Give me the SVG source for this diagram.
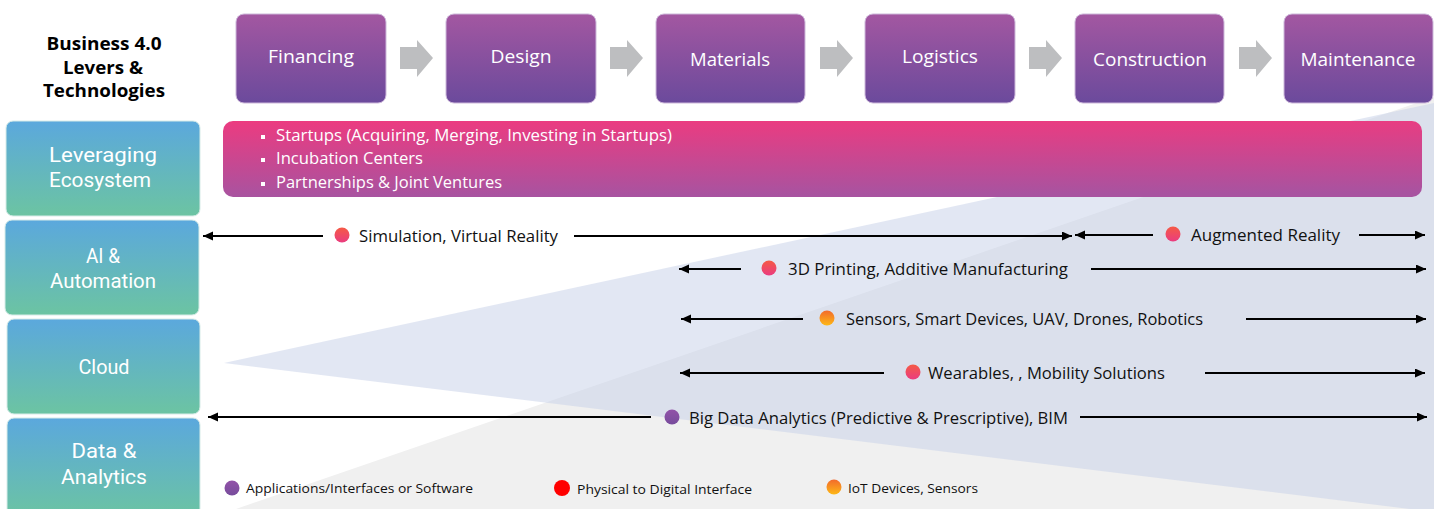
<svg xmlns="http://www.w3.org/2000/svg" width="1440" height="509" viewBox="0 0 1440 509">
<defs>
<linearGradient id="gStage" x1="0" y1="0" x2="0" y2="1"><stop offset="0" stop-color="#a357a1"/><stop offset="1" stop-color="#6b4a9c"/></linearGradient>
<linearGradient id="gLever" x1="0" y1="0" x2="0" y2="1"><stop offset="0" stop-color="#5ba8dd"/><stop offset="1" stop-color="#6cc4a2"/></linearGradient>
<linearGradient id="gPink" x1="0" y1="0" x2="0.06" y2="1"><stop offset="0" stop-color="#ec3b80"/><stop offset="1" stop-color="#a853a0"/></linearGradient>
<linearGradient id="gRed" x1="0" y1="0" x2="0" y2="1"><stop offset="0" stop-color="#f55a45"/><stop offset="1" stop-color="#ea3c80"/></linearGradient>
<linearGradient id="gOrange" x1="0" y1="0" x2="0" y2="1"><stop offset="0" stop-color="#f26a2c"/><stop offset="1" stop-color="#fdb816"/></linearGradient>
<linearGradient id="gPurple" x1="0" y1="0" x2="0" y2="1"><stop offset="0" stop-color="#9252a8"/><stop offset="1" stop-color="#774c9c"/></linearGradient>
<marker id="ah" markerUnits="userSpaceOnUse" markerWidth="11" markerHeight="10" refX="10" refY="4.5" orient="auto"><path d="M0,0 L10,4.5 L0,9 z" fill="#000"/></marker>
</defs>
<style>
.stage rect{fill:url(#gStage);stroke:#cdb8da;stroke-width:1}
.stage text{fill:#fff;font-family:"Open Sans","Noto Sans",sans-serif;font-size:19px;text-anchor:middle}
.lever rect{fill:url(#gLever);stroke:#d7ece8;stroke-width:1}
.lever text{fill:#fff;font-family:Roboto,"Open Sans",sans-serif;font-size:21px;text-anchor:middle}
.title text{fill:#000;font-family:"Open Sans","Noto Sans",sans-serif;font-size:18px;font-weight:bold;text-anchor:middle}
.eco text{fill:#fff;font-family:"Open Sans","Noto Sans",sans-serif;font-size:16px}
.tech text{fill:#111;font-family:"Open Sans","Noto Sans",sans-serif;font-size:16.5px}
.legend text{fill:#111;font-family:"Open Sans","Noto Sans",sans-serif;font-size:13.5px}
.chev{fill:#bdbec0}
#connectors line{stroke:#000;stroke-width:2;marker-end:url(#ah)}
</style>
<g id="background">
<polygon points="236,509 1434,97 1434,509" fill="#f0f0f0"/>
<polygon points="224,363 1434,103 1434,512" fill="rgb(200,210,232)" fill-opacity="0.53"/>
</g>
<g id="title" class="title">
<text x="104" y="50" textLength="115" lengthAdjust="spacingAndGlyphs">Business 4.0</text>
<text x="103" y="74" textLength="80" lengthAdjust="spacingAndGlyphs">Levers &amp;</text>
<text x="104" y="97" textLength="122" lengthAdjust="spacingAndGlyphs">Technologies</text>
</g>
<g id="stage-financing" class="stage"><rect x="236" y="14" width="150" height="89" rx="8"/><text x="311" y="63" textLength="86" lengthAdjust="spacingAndGlyphs">Financing</text></g>
<g id="stage-design" class="stage"><rect x="446" y="14" width="150" height="89" rx="8"/><text x="521" y="63" textLength="61" lengthAdjust="spacingAndGlyphs">Design</text></g>
<g id="stage-materials" class="stage"><rect x="656" y="14" width="149" height="89" rx="8"/><text x="730" y="66" textLength="80" lengthAdjust="spacingAndGlyphs">Materials</text></g>
<g id="stage-logistics" class="stage"><rect x="865" y="14" width="150" height="89" rx="8"/><text x="940" y="63" textLength="76" lengthAdjust="spacingAndGlyphs">Logistics</text></g>
<g id="stage-construction" class="stage"><rect x="1075" y="14" width="149" height="89" rx="8"/><text x="1150" y="66" textLength="114" lengthAdjust="spacingAndGlyphs">Construction</text></g>
<g id="stage-maintenance" class="stage"><rect x="1284" y="14" width="149" height="89" rx="8"/><text x="1358" y="66" textLength="115" lengthAdjust="spacingAndGlyphs">Maintenance</text></g>
<g id="chevrons">
<polygon class="chev" points="400,47 417,47 417,40 433,58 417,77 417,69 400,69"/>
<polygon class="chev" points="610,47 627,47 627,40 643,58 627,77 627,69 610,69"/>
<polygon class="chev" points="820,47 837,47 837,40 853,58 837,77 837,69 820,69"/>
<polygon class="chev" points="1029,47 1046,47 1046,40 1062,58 1046,77 1046,69 1029,69"/>
<polygon class="chev" points="1239,47 1256,47 1256,40 1272,58 1256,77 1256,69 1239,69"/>
</g>
<g id="lever-ecosystem" class="lever"><rect x="6" y="121" width="194" height="95" rx="7"/><text x="103" y="162" textLength="108" lengthAdjust="spacingAndGlyphs">Leveraging</text><text x="100" y="187" textLength="102" lengthAdjust="spacingAndGlyphs">Ecosystem</text></g>
<g id="lever-ai" class="lever"><rect x="5" y="220" width="194" height="95" rx="7"/><text x="103" y="263" textLength="34" lengthAdjust="spacingAndGlyphs">AI &amp;</text><text x="103" y="288" textLength="106" lengthAdjust="spacingAndGlyphs">Automation</text></g>
<g id="lever-cloud" class="lever"><rect x="7" y="319" width="193" height="95" rx="7"/><text x="104" y="374" textLength="51" lengthAdjust="spacingAndGlyphs">Cloud</text></g>
<g id="lever-data" class="lever"><rect x="7" y="418" width="193" height="100" rx="7"/><text x="104" y="458" textLength="65" lengthAdjust="spacingAndGlyphs">Data &amp;</text><text x="104" y="484" textLength="86" lengthAdjust="spacingAndGlyphs">Analytics</text></g>
<g id="ecosystem-bar" class="eco">
<rect x="223" y="121" width="1199" height="76" rx="10" fill="url(#gPink)"/>
<rect x="261" y="135" width="4" height="4" fill="#fff"/>
<rect x="261" y="158" width="4" height="4" fill="#fff"/>
<rect x="261" y="182" width="4" height="4" fill="#fff"/>
<text x="276" y="141" textLength="396" lengthAdjust="spacingAndGlyphs">Startups (Acquiring, Merging, Investing in Startups)</text>
<text x="276" y="164" textLength="147" lengthAdjust="spacingAndGlyphs">Incubation Centers</text>
<text x="276" y="188" textLength="226" lengthAdjust="spacingAndGlyphs">Partnerships &amp; Joint Ventures</text>
</g>
<g id="connectors">
<line x1="323" y1="236" x2="203" y2="236"/>
<line x1="574" y1="236" x2="1072" y2="236"/>
<line x1="1153" y1="235" x2="1075" y2="235"/>
<line x1="1359" y1="235" x2="1425" y2="235"/>
<line x1="741" y1="269" x2="679" y2="269"/>
<line x1="1091" y1="269" x2="1426" y2="269"/>
<line x1="803" y1="319" x2="681" y2="319"/>
<line x1="1246" y1="319" x2="1426" y2="319"/>
<line x1="884" y1="373" x2="680" y2="373"/>
<line x1="1205" y1="373" x2="1425" y2="373"/>
<line x1="651" y1="417" x2="208" y2="417"/>
<line x1="1080" y1="417" x2="1427" y2="417"/>
</g>
<g id="tech-simulation" class="tech"><circle cx="342" cy="235" r="7.5" fill="url(#gRed)"/><text x="359" y="242" textLength="199" lengthAdjust="spacingAndGlyphs">Simulation, Virtual Reality</text></g>
<g id="tech-ar" class="tech"><circle cx="1173" cy="234" r="7.5" fill="url(#gRed)"/><text x="1191" y="241" textLength="149" lengthAdjust="spacingAndGlyphs">Augmented Reality</text></g>
<g id="tech-3d" class="tech"><circle cx="769" cy="268" r="7.5" fill="url(#gRed)"/><text x="788" y="275" textLength="280" lengthAdjust="spacingAndGlyphs">3D Printing, Additive Manufacturing</text></g>
<g id="tech-sensors" class="tech"><circle cx="827" cy="318" r="7.5" fill="url(#gOrange)"/><text x="846" y="325" textLength="357" lengthAdjust="spacingAndGlyphs">Sensors, Smart Devices, UAV, Drones, Robotics</text></g>
<g id="tech-wearables" class="tech"><circle cx="913" cy="372" r="7.5" fill="url(#gRed)"/><text x="928" y="379" textLength="237" lengthAdjust="spacingAndGlyphs">Wearables, , Mobility Solutions</text></g>
<g id="tech-bigdata" class="tech"><circle cx="672" cy="417" r="7.5" fill="url(#gPurple)"/><text x="689" y="424" textLength="379" lengthAdjust="spacingAndGlyphs">Big Data Analytics (Predictive &amp; Prescriptive), BIM</text></g>
<g id="legend" class="legend">
<circle cx="232" cy="488" r="7.5" fill="url(#gPurple)"/><text x="246" y="493" textLength="227" lengthAdjust="spacingAndGlyphs">Applications/Interfaces or Software</text>
<circle cx="562" cy="488" r="8" fill="#ff0000"/><text x="577" y="494" textLength="175" lengthAdjust="spacingAndGlyphs">Physical to Digital Interface</text>
<circle cx="834" cy="487" r="7.5" fill="url(#gOrange)"/><text x="848" y="493" textLength="130" lengthAdjust="spacingAndGlyphs">IoT Devices, Sensors</text>
</g>
</svg>
